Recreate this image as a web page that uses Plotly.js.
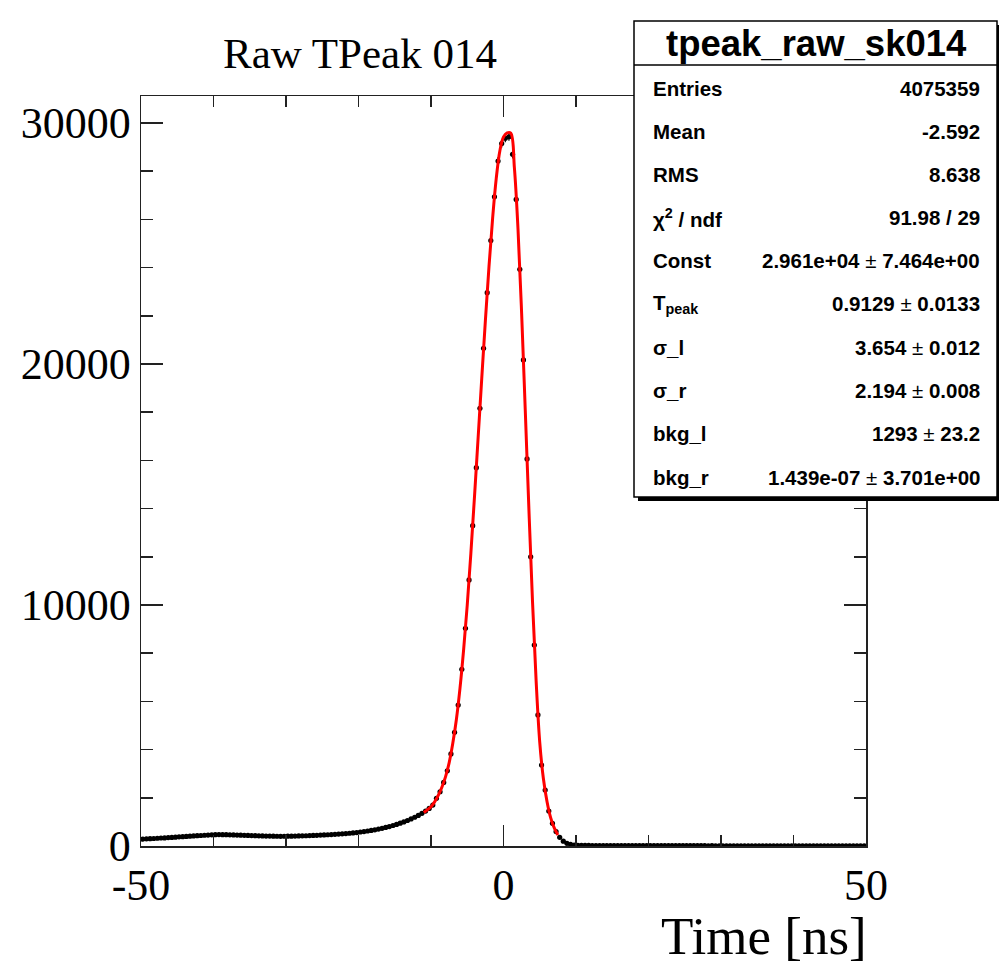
<!DOCTYPE html>
<html>
<head>
<meta charset="utf-8">
<script src="https://cdn.plot.ly/plotly-3.0.1.min.js"></script>
<style>
html,body{margin:0;padding:0;background:#fff;}
#chart{width:999px;height:965px;}
</style>
</head>
<body>
<div id="chart"></div>
<script>
// ---------- data ----------
const binCenters = [
-49.75,-49.25,-48.75,-48.25,-47.75,-47.25,-46.75,-46.25,-45.75,-45.25,
-44.75,-44.25,-43.75,-43.25,-42.75,-42.25,-41.75,-41.25,-40.75,-40.25,
-39.75,-39.25,-38.75,-38.25,-37.75,-37.25,-36.75,-36.25,-35.75,-35.25,
-34.75,-34.25,-33.75,-33.25,-32.75,-32.25,-31.75,-31.25,-30.75,-30.25,
-29.75,-29.25,-28.75,-28.25,-27.75,-27.25,-26.75,-26.25,-25.75,-25.25,
-24.75,-24.25,-23.75,-23.25,-22.75,-22.25,-21.75,-21.25,-20.75,-20.25,
-19.75,-19.25,-18.75,-18.25,-17.75,-17.25,-16.75,-16.25,-15.75,-15.25,
-14.75,-14.25,-13.75,-13.25,-12.75,-12.25,-11.75,-11.25,-10.75,-10.25,
-9.75,-9.25,-8.75,-8.25,-7.75,-7.25,-6.75,-6.25,-5.75,-5.25,
-4.75,-4.25,-3.75,-3.25,-2.75,-2.25,-1.75,-1.25,-0.75,-0.25,
0.25,0.75,1.25,1.75,2.25,2.75,3.25,3.75,4.25,4.75,
5.25,5.75,6.25,6.75,7.25,7.75,8.25,8.75,9.25,9.75,
10.25,10.75,11.25,11.75,12.25,12.75,13.25,13.75,14.25,14.75,
15.25,15.75,16.25,16.75,17.25,17.75,18.25,18.75,19.25,19.75,
20.25,20.75,21.25,21.75,22.25,22.75,23.25,23.75,24.25,24.75,
25.25,25.75,26.25,26.75,27.25,27.75,28.25,28.75,29.25,29.75,
30.25,30.75,31.25,31.75,32.25,32.75,33.25,33.75,34.25,34.75,
35.25,35.75,36.25,36.75,37.25,37.75,38.25,38.75,39.25,39.75,
40.25,40.75,41.25,41.75,42.25,42.75,43.25,43.75,44.25,44.75,
45.25,45.75,46.25,46.75,47.25,47.75,48.25,48.75,49.25,49.75
];
const binCounts = [
288,297,306,311,322,331,336,348,355,367,
380,389,398,409,417,428,436,447,455,463,
468,472,470,468,463,459,452,448,443,437,
432,427,421,418,413,410,407,404,403,404,
406,409,412,417,421,426,433,438,445,452,
459,467,475,484,494,505,517,530,544,559,
580,600,622,646,673,702,735,770,808,850,
896,946,1000,1058,1122,1192,1270,1355,1450,1560,
1700,1980,2250,2640,3120,3820,4720,5850,7330,9030,
11040,13290,15700,18160,20650,22960,25120,26940,28420,29150,
29370,29430,28700,26830,23930,20170,16060,12000,8340,5440,
3360,2320,1450,940,600,360,200,110,65,40,
30,26,24,22,21,20,19,19,18,18,
17,17,18,17,16,16,17,16,15,16,
15,15,14,15,14,14,13,14,13,13,
13,12,13,12,12,12,11,12,11,11,
11,11,10,11,10,10,10,10,9,10,
9,9,9,10,9,8,9,8,8,8,
8,8,7,8,7,7,7,7,7,6,
7,6,6,6,6,6,5,6,5,5
];
const fitX = [-11,-10.5,-10,-9.5,-9,-8.5,-8,-7.5,-7,-6.5,-6,-5.5,-5,-4.5,-4,-3.5,-3,-2.5,-2,-1.5,-1,-0.5,0,0.5,1,1.5,2,2.5,3,3.5,4,4.5,5,5.5,6,6.5,7,7.5];
const fitY = [1390,1500,1630,1830,2100,2440,2870,3450,4250,5250,6550,8150,10000,12150,14500,16950,19400,21800,24050,26050,27700,28850,29420,29590,29580,28150,25600,22100,18100,14000,10150,6850,4300,2800,1850,1180,750,460];

const xTickVals = [-50, 0, 50];
const xTickText = ['-50', '0', '50'];
const xMinorVals = [-40, -30, -20, -10, 10, 20, 30, 40];
const yTickVals = [0, 10000, 20000, 30000];
const yTickText = ['0', '10000', '20000', '30000'];

const chartTitle = 'Raw TPeak 014';
const xTitle = 'Time [ns]';
const statsName = 'tpeak_raw_sk014';
const statLabels = ['Entries','Mean','RMS','&#967;<sup>2</sup> / ndf','Const','T<sub>peak</sub>','&#963;_l','&#963;_r','bkg_l','bkg_r'];
const statValues = ['4075359','-2.592','8.638','91.98 / 29','2.961e+04 ± 7.464e+00','0.9129 ± 0.0133','3.654 ± 0.012','2.194 ± 0.008','1293 ± 23.2','1.439e-07 ± 3.701e+00'];

// ---------- layout helpers ----------
const W = 999, H = 965;
const M = {l: 141, r: 133, t: 96, b: 119};
const PW = W - M.l - M.r, PH = H - M.t - M.b;
const px = x => (x - M.l) / PW;
const py = y => (H - M.b - y) / PH;

const sans = 'Liberation Sans, Arial, sans-serif';
const serif = 'Liberation Serif, Times New Roman, serif';

const traces = [
  {
    x: binCenters, y: binCounts, type: 'scatter', mode: 'markers',
    marker: {color: '#000', size: 5.2, symbol: 'circle'},
    error_x: {type: 'constant', value: 0.25, width: 0, thickness: 2, color: '#000'},
    error_y: {type: 'sqrt', width: 0, thickness: 1.2, color: '#000'},
    hoverinfo: 'skip', showlegend: false
  },
  {
    x: fitX, y: fitY, type: 'scatter', mode: 'lines',
    line: {color: '#ff0000', width: 3, shape: 'spline', smoothing: 1},
    hoverinfo: 'skip', showlegend: false
  }
];

const statRowsY = [88, 131.5, 174.5, 217.5, 260.5, 303.5, 347, 390, 433, 477];
const annotations = [];
statLabels.forEach((lab, i) => {
  annotations.push({
    text: '<b>' + lab + '</b>', xref: 'paper', yref: 'paper',
    x: px(651), y: py(statRowsY[i]), xanchor: 'left', yanchor: 'middle',
    showarrow: false, font: {family: sans, size: 20.5, color: '#000'}
  });
  const v = statValues[i].split(' ± ');
  const vt = v.length === 2 ? '<b>' + v[0] + '</b> ± <b>' + v[1] + '</b>' : '<b>' + v[0] + '</b>';
  annotations.push({
    text: vt, xref: 'paper', yref: 'paper',
    x: px(982), y: py(statRowsY[i]), xanchor: 'right', yanchor: 'middle',
    showarrow: false, font: {family: sans, size: 20.5, color: '#000'}
  });
});
annotations.push({
  text: '<b>' + statsName + '</b>', xref: 'paper', yref: 'paper',
  x: px(816), y: py(43), xanchor: 'center', yanchor: 'middle',
  showarrow: false, font: {family: sans, size: 36.5, color: '#000'}
});
annotations.push({
  text: xTitle, xref: 'paper', yref: 'paper',
  x: px(869), y: py(936), xanchor: 'right', yanchor: 'middle',
  showarrow: false, font: {family: serif, size: 53, color: '#000'}
});

const shapes = [
  // shadow
  {type: 'rect', xref: 'paper', yref: 'paper', x0: px(638), x1: px(1001), y0: py(501), y1: py(25),
   fillcolor: '#000', line: {width: 0}, layer: 'above'},
  // box
  {type: 'rect', xref: 'paper', yref: 'paper', x0: px(634), x1: px(997), y0: py(497), y1: py(21),
   fillcolor: '#fff', line: {color: '#000', width: 1.5}, layer: 'above'},
  // separator
  {type: 'line', xref: 'paper', yref: 'paper', x0: px(634), x1: px(997), y0: py(65), y1: py(65),
   line: {color: '#000', width: 1.5}, layer: 'above'}
];

const axisCommon = {
  showline: true, linecolor: '#222', linewidth: 1.5, mirror: 'allticks',
  ticks: 'inside', tickcolor: '#222', tickwidth: 1.5,
  showgrid: false, zeroline: false,
  tickfont: {family: serif, size: 44, color: '#000'}
};

const layout = {
  width: W, height: H,
  margin: M,
  paper_bgcolor: '#fff', plot_bgcolor: '#fff',
  title: {text: chartTitle, font: {family: serif, size: 43, color: '#000'},
          xref: 'paper', x: px(360), xanchor: 'center', yref: 'container', y: 1 - 53 / H, yanchor: 'middle'},
  xaxis: Object.assign({}, axisCommon, {
    range: [-50, 50], tickmode: 'array', tickvals: xTickVals, ticktext: xTickText, ticklen: 21,
    minor: {tickmode: 'array', tickvals: xMinorVals, ticks: 'inside', ticklen: 11, tickwidth: 1.5, tickcolor: '#222', showgrid: false}
  }),
  yaxis: Object.assign({}, axisCommon, {
    range: [0, 31120], tickmode: 'array', tickvals: yTickVals, ticktext: yTickText, ticklen: 22,
    minor: {dtick: 2000, tick0: 0, ticks: 'inside', ticklen: 12, tickwidth: 1.5, tickcolor: '#222', showgrid: false}
  }),
  annotations: annotations,
  shapes: shapes,
  showlegend: false
};

Plotly.newPlot('chart', traces, layout, {staticPlot: true, displayModeBar: false});
</script>
</body>
</html>
